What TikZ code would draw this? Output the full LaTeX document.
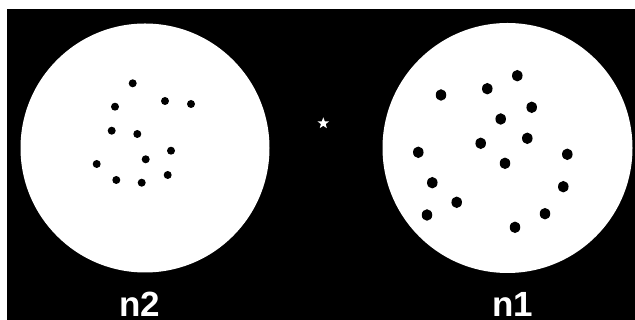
\documentclass[tikz,border=0pt]{standalone}
\usepackage{fontspec}
\setmainfont{Liberation Sans}
\usetikzlibrary{shapes.geometric}
\begin{document}
\begin{tikzpicture}[x=1pt,y=1pt,
  disc/.style={circle,fill=white,inner sep=0pt,minimum size=#1},
  dotS/.style={circle,fill=black,inner sep=0pt,minimum size=8pt},
  dotL/.style={ellipse,fill=black,inner sep=0pt,minimum width=10.5pt,minimum height=11.5pt},
  lbl/.style={text=white,font=\fontsize{35}{40}\selectfont\bfseries,anchor=base,inner sep=0pt}]
\useasboundingbox (0,0) rectangle (635,320);
\fill[white] (0,0) rectangle (635,320);
\fill[black] (7,0) rectangle (635,311);
% left disc n2
\node[disc=249pt] (c2) at (145,172) {};
\foreach \i/\x/\y in {a/132.7/83.3, b/165/101, c/191/104, d/115/106.7, e/111.7/130.7, f/137.3/134, g/171/150.7, h/145.7/159.3, i/96.7/164, j/167.7/175, k/116.3/180, l/141.7/182.7}
  \node[dotS] (l\i) at (\x,320-\y) {};
% right disc n1
\node[disc=250pt] (c1) at (507.5,172) {};
\foreach \i/\x/\y in {a/517.3/75.7, b/487.3/88.7, c/441/95, d/531.7/107.3, e/500.7/119, f/527.3/138.3, g/480.7/143.3, h/418.3/152.3, i/567.3/154.3, j/505/163.3, k/432.3/182.7, l/563.3/186.7, m/456.7/202.3, n/427/215, o/545/213.7, p/515/227.3}
  \node[dotL] (r\i) at (\x,320-\y) {};
% star
\node[star,star points=5,star point ratio=2.4,fill=white,inner sep=0pt,minimum size=12pt] (st) at (323.3,196.7) {};
% labels
\node[lbl] (n2) at (139.5,3) {n2};
\node[lbl] (n1) at (513,3) {n1};
\end{tikzpicture}
\end{document}
